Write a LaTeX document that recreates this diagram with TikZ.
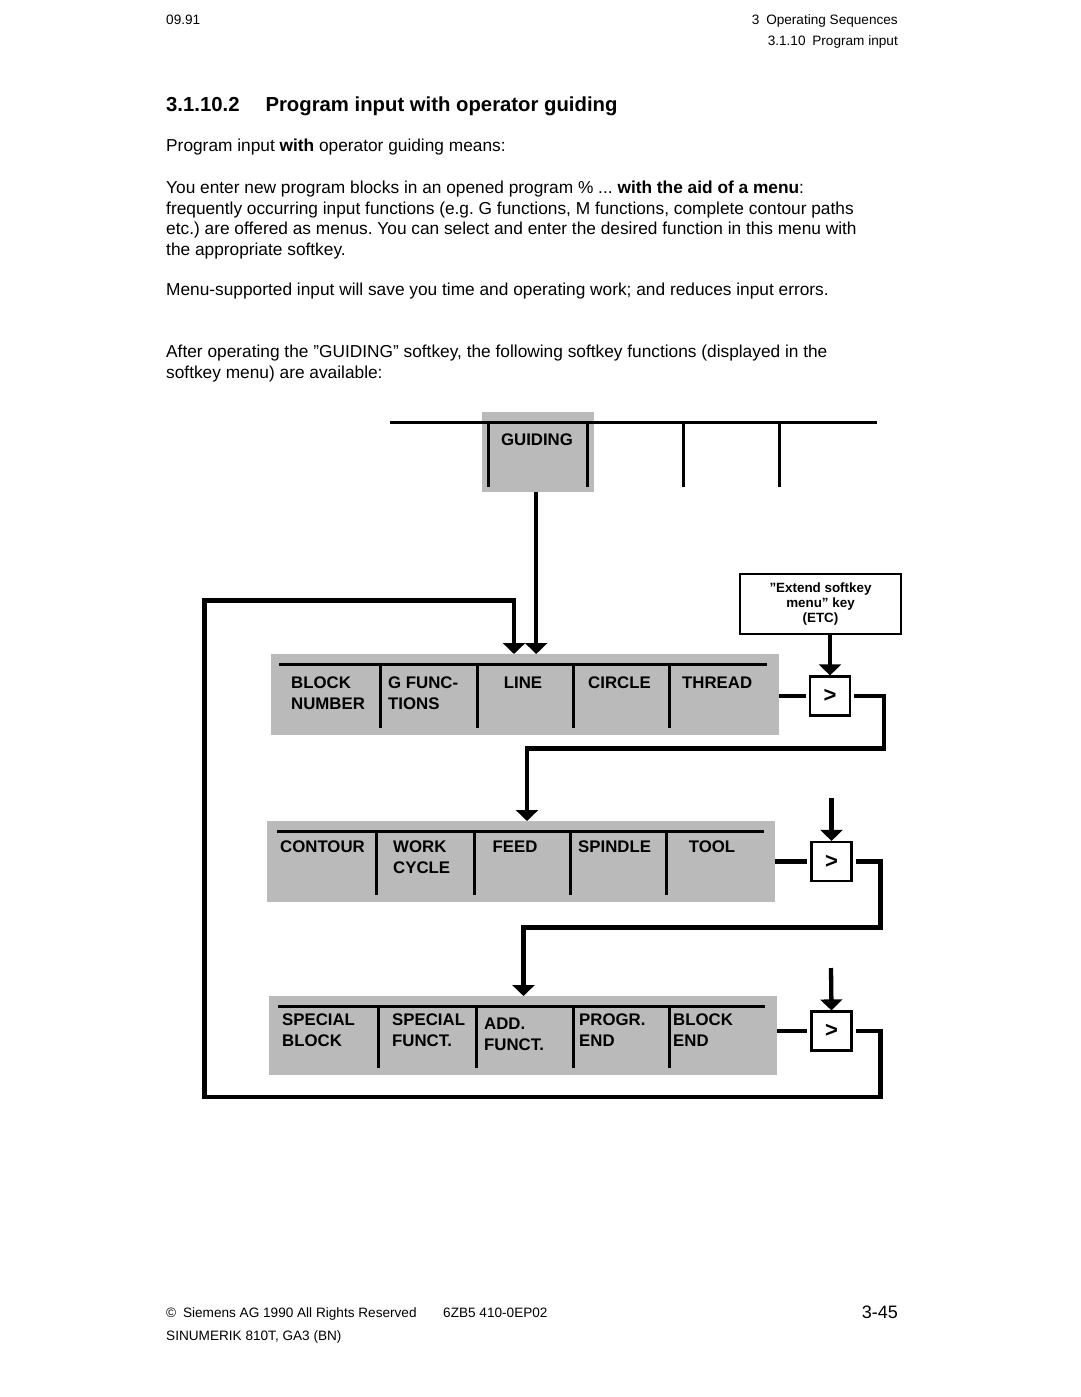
\documentclass[tikz,border=0pt]{standalone}
\usepackage{fontspec}
\setmainfont{Liberation Sans}
\usetikzlibrary{arrows.meta}
\frenchspacing

\tikzset{
  body/.style={font=\fontsize{17.3}{20.6}\selectfont, inner sep=0pt, anchor=base west},
  small/.style={font=\fontsize{13.6}{16}\selectfont, inner sep=0pt},
  keyfill/.style={fill=black!27, draw=none, inner sep=0pt, anchor=north west},
  keytxt/.style={font=\bfseries\fontsize{16.8}{20.8}\selectfont, align=left, inner sep=0pt, anchor=north west},
  morebox/.style={draw, line width=2.2pt, minimum width=40pt, minimum height=39pt, inner sep=0pt,
    font=\bfseries\fontsize{22}{22}\selectfont},
  etcbox/.style={draw, line width=1.5pt, minimum width=161pt, minimum height=60pt, align=center,
    font=\bfseries\fontsize{13.4}{15.4}\selectfont},
  keyline/.style={line width=3pt},
  flow/.style={line width=4.3pt, -{Triangle[width=22pt,length=11pt]}},
  stub/.style={line width=4.3pt}
}

\begin{document}
\begin{tikzpicture}[x=1pt,y=-1pt]
\useasboundingbox (0,0) rectangle (1080,1397);

  \node[small, anchor=base west] (date) at (166,25) {09.91};
  \node[small, anchor=base east] (chap) at (898,25) {3\enspace Operating Sequences};
  \node[small, anchor=base east] (sect) at (898,46) {3.1.10\enspace Program input};
  \node[font=\bfseries\fontsize{20.3}{24}\selectfont, inner sep=0pt, anchor=base west] (title)
    at (166,111) {3.1.10.2\hspace{26pt}Program input with operator guiding};

  \node[body] (p1) at (166,151.5) {Program input \textbf{with} operator guiding means:};
  \node[body] (p2a) at (166,193.5) {You enter new program blocks in an opened program \% ... \textbf{with the aid of a menu}:};
  \node[body] (p2b) at (166,214) {frequently occurring input functions (e.g. G functions, M functions, complete contour paths};
  \node[body] (p2c) at (166,234.5) {etc.) are offered as menus. You can select and enter the desired function in this menu with};
  \node[body] (p2d) at (166,255) {the appropriate softkey.};
  \node[body] (p3) at (166,295.5) {Menu-supported input will save you time and operating work; and reduces input errors.};
  \node[body] (p4a) at (166,357.5) {After operating the ”GUIDING” softkey, the following softkey functions (displayed in the};
  \node[body] (p4b) at (166,378) {softkey menu) are available:};

  \node[keyfill, minimum width=112pt, minimum height=80pt] (guide) at (482,412) {};
  \node[keytxt, anchor=north] (guidetxt) at (537,434) {GUIDING};

  \node[keyfill, minimum width=508pt, minimum height=81pt] (bar1) at (271,654) {};
  \node[keyfill, minimum width=508pt, minimum height=81pt] (bar2) at (267,821) {};
  \node[keyfill, minimum width=508pt, minimum height=79pt] (bar3) at (269,996) {};

  \node[keytxt] (k11) at (291,677) {BLOCK\\NUMBER};
  \node[keytxt] (k12) at (388,677) {G FUNC-\\TIONS};
  \node[keytxt, anchor=north] (k13) at (523,677) {LINE};
  \node[keytxt] (k14) at (588,677) {CIRCLE};
  \node[keytxt] (k15) at (682,677) {THREAD};

  \node[keytxt] (k21) at (280,841) {CONTOUR};
  \node[keytxt] (k22) at (393,841) {WORK\\CYCLE};
  \node[keytxt, anchor=north] (k23) at (515,841) {FEED};
  \node[keytxt] (k24) at (578,841) {SPINDLE};
  \node[keytxt, anchor=north] (k25) at (712,841) {TOOL};

  \node[keytxt] (k31) at (282,1014) {SPECIAL\\BLOCK};
  \node[keytxt] (k32) at (392,1014) {SPECIAL\\FUNCT.};
  \node[keytxt] (k33) at (484,1018) {ADD.\\FUNCT.};
  \node[keytxt] (k34) at (579,1014) {PROGR.\\END};
  \node[keytxt] (k35) at (673,1014) {BLOCK\\END};

  \node[etcbox] (etc) at (820.5,604) {”Extend softkey\\menu” key\\(ETC)};
  \node[morebox] (more1) at (830,696) {>};
  \node[morebox] (more2) at (831.5,861.5) {>};
  \node[morebox] (more3) at (831.5,1031) {>};

  \coordinate (r1) at (884,748.5);
  \coordinate (t2) at (527,821);
  \coordinate (r2) at (880.5,927.5);
  \coordinate (t3) at (523.5,996);
  \coordinate (r3) at (880.5,1097);
  \coordinate (l3) at (204.5,600.5);
  \coordinate (t1) at (514,654);
  \coordinate (e2) at (831.5,798);
  \coordinate (e3) at (831,968);

\draw[keyline] (390,422) -- (877,422);
\foreach \x in {488,587,683,779}
  \draw[keyline] (\x,422) -- (\x,487);

\draw[keyline] (279,664) -- (767,664);
\foreach \x in {380,477,573,669}
  \draw[keyline] (\x,664) -- (\x,728);
\draw[keyline] (277,831) -- (764,831);
\foreach \x in {376,474,570,666}
  \draw[keyline] (\x,831) -- (\x,895);
\draw[keyline] (278,1006) -- (765,1006);
\foreach \x in {378,476,573,669}
  \draw[keyline] (\x,1006) -- (\x,1068);

\draw[flow] ([xshift=-2pt]guide.south) -- ([xshift=-2pt]guide.south |- bar1.north);
\draw[flow] (more1.north |- etc.south) -- (more1.north);
\draw[flow] (e2) -- (more2.north);
\draw[flow] (e3) -- (more3.north);

\draw[stub, shorten >=3pt] (bar1.east |- more1.west) -- (more1.west);
\draw[stub, shorten >=3pt] (bar2.east |- more2.west) -- (more2.west);
\draw[stub, shorten >=3pt] (bar3.east |- more3.west) -- (more3.west);

\draw[flow, shorten <=3pt] (more1.east) -| (r1) -| (t2);
\draw[flow, shorten <=3pt] (more2.east) -| (r2) -| (t3);
\draw[flow, shorten <=3pt] (more3.east) -| (r3) -| (l3) -| (t1);

  \node[small, anchor=base west] (copy) at (166,1317) {©\enspace Siemens AG 1990 All Rights Reserved};
  \node[small, anchor=base west] (order) at (443,1317) {6ZB5 410-0EP02};
  \node[font=\fontsize{18}{20}\selectfont, inner sep=0pt, anchor=base east] (page) at (898,1318) {3-45};
  \node[small, anchor=base west] (prod) at (166,1340) {SINUMERIK 810T, GA3 (BN)};
\end{tikzpicture}
\end{document}
